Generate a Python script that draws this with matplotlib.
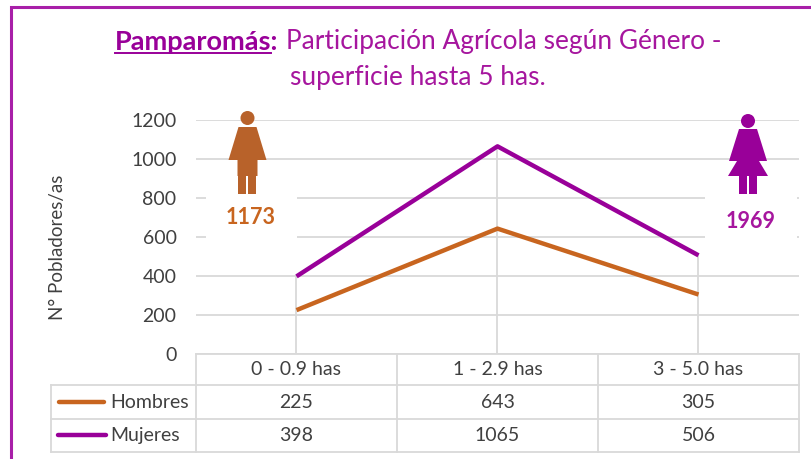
import matplotlib
matplotlib.use("Agg")
import matplotlib.pyplot as plt
from matplotlib.patches import Circle, Polygon, Rectangle

categories = ["0 - 0.9 has", "1 - 2.9 has", "3 - 5.0 has"]
hombres = [225, 643, 305]
mujeres = [398, 1065, 506]
total_hombres = "1173"
total_mujeres = "1969"
y_ticks = [0, 200, 400, 600, 800, 1000, 1200]

W, H = 812, 459
C_H = "#B8622A"
C_HL = "#C8651F"
C_M = "#990099"
GRID = "#D9D9D9"
TXT = "#404040"
plt.rcParams['font.family'] = ['Lato', 'DejaVu Sans']

fig = plt.figure(figsize=(W / 100, H / 100), dpi=100)
L, R, T, B = 196, 799, 120, 354


def pixel_axes(z):
    a = fig.add_axes([0, 0, 1, 1], zorder=z)
    a.set_xlim(0, W)
    a.set_ylim(H, 0)
    a.axis('off')
    a.patch.set_alpha(0)
    return a


# grid layer
ax = fig.add_axes([L / W, 1 - B / H, (R - L) / W, (B - T) / H], zorder=2)
x = list(range(len(categories)))
ax.set_xlim(-0.5, 2.5)
ax.set_ylim(0, 1200)
ax.set_yticks(y_ticks)
ax.set_xticks([])
ax.tick_params(axis='y', length=0, labelsize=14, labelcolor=TXT, pad=14)
for s in ax.spines.values():
    s.set_visible(False)
ax.grid(axis='y', color=GRID, lw=1.3)
for xi, m in zip(x, mujeres):
    ax.plot([xi, xi], [0, m], color=GRID, lw=1.3)

# white boxes that interrupt the gridlines behind the icon captions
bg = pixel_axes(3)
bg.add_patch(Rectangle((206, 190), 91, 52, fc='white', ec='none'))
bg.add_patch(Rectangle((705, 190), 92, 52, fc='white', ec='none'))

# data lines above the boxes
lines = fig.add_axes(ax.get_position(), zorder=4)
lines.set_xlim(ax.get_xlim())
lines.set_ylim(ax.get_ylim())
lines.axis('off')
lines.patch.set_alpha(0)
lines.plot(x, hombres, color=C_HL, lw=3.2, solid_capstyle='butt')
lines.plot(x, mujeres, color=C_M, lw=3.2, solid_capstyle='butt')

ov = pixel_axes(5)

# frame
ov.plot([11, 11, W], [H, 6.5, 6.5], color="#A81FA8", lw=2.2, solid_joinstyle='miter')

# y label
ov.text(58, 247, "N° Pobladores/as", fontsize=13.5, color=TXT, rotation=90, ha='center', va='center')

# title
tcolor = "#A6169E"
ov.text(115, 42, "Pamparomás:", fontsize=19.5, color="#990099", fontweight='bold', ha='left', va='center')
ov.plot([115, 271], [52.5, 52.5], color="#990099", lw=1.4)
ov.text(286, 42, "Participación Agrícola según Género -", fontsize=18.9, color=tcolor, ha='left', va='center')
ov.text(418, 78, "superficie hasta 5 has.", fontsize=18.9, color=tcolor, ha='center', va='center')


def person(cx, head_y, col, skirt):
    ov.add_patch(Circle((cx, head_y), 7, fc=col, ec='none'))
    if skirt:
        pts = [(cx - 9, 129), (cx + 9, 129), (cx + 19, 161), (cx + 11, 161), (cx + 20, 176),
               (cx - 20, 176), (cx - 11, 161), (cx - 19, 161)]
    else:
        pts = [(cx - 9, 127), (cx + 9, 127), (cx + 19, 160), (cx + 10, 160), (cx + 10, 176),
               (cx - 10, 176), (cx - 10, 160), (cx - 19, 160)]
    ov.add_patch(Polygon(pts, closed=True, fc=col, ec='none'))
    ov.add_patch(Rectangle((cx - 9, 174), 8, 20, fc=col, ec='none'))
    ov.add_patch(Rectangle((cx + 1, 174), 8, 20, fc=col, ec='none'))


person(247.5, 118, C_H, False)
person(748, 121, C_M, True)
ov.text(251, 218, total_hombres, fontsize=15.5, color=C_HL, fontweight='bold', ha='center', va='center')
ov.text(751, 221, total_mujeres, fontsize=15.5, color=tcolor, fontweight='bold', ha='center', va='center')

# data table
col_x = [196, 397, 598, 799]
row_y = [354, 385, 419, 452]
left = 51
tk = dict(color=GRID, lw=1.3, zorder=1)
ov.plot([L, R], [row_y[0], row_y[0]], **tk)
for yy in row_y[1:]:
    ov.plot([left, R], [yy, yy], **tk)
for xx in col_x:
    ov.plot([xx, xx], [row_y[0], row_y[-1]], **tk)
ov.plot([left, left], [row_y[1], row_y[-1]], **tk)
for i, c in enumerate(categories):
    cx = (col_x[i] + col_x[i + 1]) / 2
    ov.text(cx, 369.5, c, fontsize=14, color=TXT, ha='center', va='center')
    ov.text(cx, 402, str(hombres[i]), fontsize=14, color=TXT, ha='center', va='center')
    ov.text(cx, 435.5, str(mujeres[i]), fontsize=14, color=TXT, ha='center', va='center')
ov.plot([59, 104], [402, 402], color=C_HL, lw=3.2, solid_capstyle='round')
ov.plot([58, 106], [435, 435], color=C_M, lw=3.2, solid_capstyle='round')
ov.text(110, 402, "Hombres", fontsize=14, color=TXT, ha='left', va='center')
ov.text(110, 435, "Mujeres", fontsize=14, color=TXT, ha='left', va='center')

fig.savefig("out.png", dpi=100)
